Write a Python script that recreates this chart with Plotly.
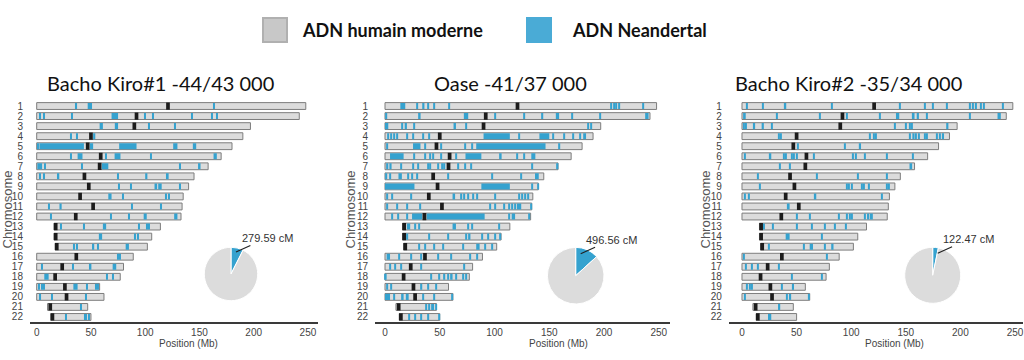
import plotly.graph_objects as go

W, H = 1024, 360

# ---------------- data ----------------
CHROMS = list(range(1, 23))
CHR_START = [0, 0, 0, 0, 0, 0, 0, 0, 0, 0, 0, 0, 16, 16, 17, 0, 0, 0, 0, 0, 10, 13]
CHR_END = [248, 242, 197, 190, 180, 170, 158, 145, 140, 135, 134, 133, 114, 106, 102, 89, 80, 77, 58, 62, 47, 50]
CENTROMERE = [121, 92, 90, 50, 47, 59, 58, 44, 48, 40, 52, 36, 17.5, 17.5, 18.5, 36.5, 23.5, 17, 26, 27.5, 12.5, 14.5]

SAMPLES = ["Bacho Kiro#1 -44/43 000", "Oase -41/37 000", "Bacho Kiro#2 -35/34 000"]
NEANDERTAL_CM = [279.59, 496.56, 122.47]
GENOME_CM = 3750

# Neandertal segments (chromosome, start Mb, end Mb)
BK1_SEGMENTS = [
    (1, 36, 37.2), (1, 47, 51), (1, 163, 164),
    (2, 3, 4), (2, 6, 7.5), (2, 32, 33), (2, 69, 75), (2, 99, 100), (2, 107, 108), (2, 143, 144), (2, 161, 162), (2, 165.5, 167),
    (3, 58, 61), (3, 72, 75), (3, 103, 104), (3, 127, 128),
    (4, 31.5, 32.5), (4, 37, 38), (4, 52, 54),
    (5, 1, 2), (5, 2.5, 43.5), (5, 49, 52), (5, 76, 92), (5, 125.8, 129.7), (5, 143.9, 147),
    (6, 31.5, 32.5), (6, 37.7, 42.2), (6, 63, 64), (6, 71.8, 77.2), (6, 105, 106), (6, 163, 166),
    (7, 0.6, 5), (7, 7.5, 8.5), (7, 41.5, 42.5), (7, 60, 66), (7, 132, 133), (7, 148.7, 151),
    (8, 2.4, 3.4), (8, 6, 7), (8, 19.6, 20.8), (8, 74, 75), (8, 100, 102), (8, 120, 121.6),
    (9, 75.4, 76.4), (9, 86, 87), (9, 108.6, 111), (9, 112, 115.2), (9, 132, 133),
    (10, 66, 69), (10, 79, 80), (10, 119, 120), (10, 121, 122),
    (11, 11, 12), (11, 21, 23), (11, 87, 88), (11, 114.5, 115.5),
    (12, 12.7, 13.7), (12, 67.9, 68.9), (12, 85, 86), (12, 98.6, 101.4), (12, 126.7, 129.7),
    (13, 22, 23), (13, 43, 44), (13, 61, 64), (13, 93.5, 94.5), (13, 101, 102), (13, 103, 104),
    (14, 57.3, 60.3), (14, 90.5, 91.5), (14, 92.5, 93.5),
    (15, 33.8, 34.8), (15, 36.8, 37.8), (15, 51, 53), (15, 55.8, 56.8), (15, 82, 85),
    (16, 74.8, 75.8), (16, 76, 77),
    (17, 4.5, 5.5), (17, 33, 34), (17, 49, 50.4), (17, 70, 73.3),
    (18, 7, 11), (18, 64, 65), (18, 69.4, 70.4),
    (19, 2, 3), (19, 4.5, 5.5), (19, 6.6, 7.6), (19, 33.8, 37.7), (19, 45.9, 46.9), (19, 54.3, 55.3), (19, 56, 57),
    (20, 3, 4), (20, 13.6, 14.6), (20, 44.6, 45.6),
    (21, 40, 41),
    (22, 26.5, 27.5), (22, 43.7, 44.7), (22, 45.2, 46.2), (22, 48, 49),
]

OASE_SEGMENTS = [
    (1, 14, 18.5), (1, 29, 30), (1, 34, 36), (1, 39, 40), (1, 44, 45), (1, 58, 59),
    (1, 206, 207), (1, 208.5, 209.5), (1, 211, 212), (1, 213, 214), (1, 235, 236),
    (2, 1, 2), (2, 31, 32.5), (2, 72, 76), (2, 100, 101), (2, 126.5, 127.5), (2, 143.5, 144.5),
    (2, 156, 159), (2, 170, 171.5), (2, 196, 197), (2, 237.6, 240.7),
    (3, 0, 3), (3, 15.4, 16.4), (3, 18, 20), (3, 26, 27), (3, 62.6, 64.8), (3, 73.5, 74.5), (3, 185, 186), (3, 188, 189),
    (4, 2, 3), (4, 5, 6), (4, 8, 9), (4, 10.5, 11.5), (4, 20, 21), (4, 25.6, 26.6), (4, 34, 35), (4, 40, 41),
    (4, 90, 114), (4, 122, 123), (4, 141, 150), (4, 153, 154), (4, 162.7, 163.7), (4, 171, 172), (4, 177.5, 179), (4, 181, 183.6),
    (5, 1.5, 2.5), (5, 25.6, 32.4), (5, 36, 37), (5, 51, 52), (5, 72.5, 73.5), (5, 78.7, 79.7), (5, 83.3, 146.6), (5, 159, 160),
    (6, 4.6, 17), (6, 26, 27), (6, 36.4, 37.4), (6, 41, 42), (6, 43.5, 44.8), (6, 51, 52), (6, 64.8, 65.8), (6, 73.5, 88),
    (6, 105, 106.5), (6, 120, 121), (6, 126.5, 127.5), (6, 133.6, 137.3),
    (7, 1.5, 3), (7, 4, 6), (7, 14, 15), (7, 25.6, 26.6), (7, 30, 31), (7, 38.6, 39.6), (7, 40.7, 41.7), (7, 47.8, 48.8),
    (7, 51.5, 52.5), (7, 54, 55), (7, 66, 67), (7, 72.5, 73.5), (7, 78, 79), (7, 133.6, 134.6), (7, 156.5, 158.3),
    (8, 1, 2), (8, 4.6, 5.6), (8, 12.3, 15.4), (8, 21, 22), (8, 24.7, 25.7), (8, 29, 30), (8, 57, 58), (8, 97, 98),
    (8, 123.5, 124.5), (8, 137, 140.4),
    (9, 0, 26.9), (9, 88, 114), (9, 133.6, 134.6), (9, 139, 140),
    (10, 1.5, 2.5), (10, 6, 7), (10, 23.8, 24.8), (10, 61.7, 64), (10, 69.4, 70.5), (10, 71.5, 73), (10, 75.6, 76.6),
    (10, 80, 81), (10, 84, 85), (10, 100, 101), (10, 122, 123), (10, 124.5, 125.5), (10, 127.5, 128.5), (10, 130.5, 131.5),
    (11, 1.5, 2.5), (11, 10.8, 11.8), (11, 20, 21), (11, 31.8, 32.8), (11, 95.7, 96.7), (11, 100, 101), (11, 108, 109),
    (11, 112.7, 113.7), (11, 115.7, 116.7), (11, 118, 119), (11, 120.5, 124.4), (11, 132.7, 133.7),
    (12, 6, 7), (12, 11.4, 12.4), (12, 20, 21), (12, 24.7, 34), (12, 38, 91), (12, 113.3, 114.3), (12, 115.7, 118.8), (12, 131, 132),
    (13, 20, 23), (13, 27, 28), (13, 31, 32), (13, 61.7, 64.8), (13, 75.6, 76.6), (13, 78.7, 79.7), (13, 103.4, 104.4),
    (14, 20, 21), (14, 40, 41), (14, 57, 58), (14, 73.5, 75), (14, 76.5, 78), (14, 88, 89), (14, 93.5, 94.5), (14, 100, 101), (14, 105, 106),
    (15, 31, 32), (15, 36, 37), (15, 44.8, 45.8), (15, 52.5, 53.5), (15, 71, 72), (15, 83.3, 86.4), (15, 91, 92), (15, 97, 98),
    (16, 1.5, 4.6), (16, 12.3, 13.3), (16, 23.8, 24.8), (16, 32.4, 33.4), (16, 47.8, 48.8), (16, 60, 61), (16, 77, 78), (16, 83.3, 84.3),
    (17, 4, 5), (17, 9, 10), (17, 13.9, 14.9), (17, 32.4, 33.4), (17, 72, 73),
    (18, 0, 1.5), (18, 41.7, 42.7), (18, 49.4, 50.4), (18, 54, 55), (18, 57, 58), (18, 60, 61.7), (18, 64.8, 65.8), (18, 71, 72), (18, 74, 75),
    (19, 1.5, 2.5), (19, 5, 6), (19, 33, 34), (19, 38.6, 39.6), (19, 46.3, 47.3),
    (20, 0, 4.6), (20, 7.7, 8.7), (20, 15.4, 17), (20, 19, 21.6), (20, 34, 35), (20, 44.8, 45.8), (20, 61, 62),
    (21, 37, 38), (21, 40, 41), (21, 43, 44.8), (21, 46, 47),
    (22, 21.6, 22.6), (22, 26.9, 27.9), (22, 32.4, 33.4), (22, 38.6, 39.6), (22, 49, 50),
]

BK2_SEGMENTS = [
    (1, 4, 5), (1, 19, 20), (1, 39, 40.5), (1, 81.7, 82.7), (1, 144, 145), (1, 167, 168), (1, 174.7, 175.7), (1, 187, 188),
    (1, 208, 209), (1, 211, 212), (1, 214, 215), (1, 218, 219), (1, 221, 222), (1, 238.7, 239.7),
    (2, 1, 3.4), (2, 31.4, 32.4), (2, 71, 72), (2, 95.4, 96.4), (2, 126, 127), (2, 141, 144), (2, 156.4, 158), (2, 160, 162),
    (2, 168.6, 169.6), (2, 208, 209), (2, 234, 237),
    (3, 1, 2), (3, 3.5, 4.5), (3, 10, 12), (3, 18, 20), (3, 27, 28), (3, 139.6, 140.6), (3, 150, 151), (3, 153, 154), (3, 155, 156), (3, 187, 189),
    (4, 33, 34), (4, 35, 36), (4, 116.8, 118), (4, 120, 121), (4, 122, 123), (4, 153, 154), (4, 156, 158), (4, 159, 160),
    (4, 161.5, 162.5), (4, 167, 168), (4, 169, 170), (4, 177.7, 179), (4, 181, 182), (4, 183.5, 185),
    (5, 51, 52), (5, 94, 95), (5, 107, 109),
    (6, 2.4, 3.4), (6, 25.3, 26.8), (6, 37.5, 38.5), (6, 39.5, 40.5), (6, 45, 46), (6, 47, 48), (6, 49.7, 50.7), (6, 65, 66),
    (6, 101.5, 102.5), (6, 103.6, 104.6), (6, 112, 113), (6, 132, 133), (6, 156.4, 157.4),
    (7, 34.5, 35.5), (7, 43.6, 44.6), (7, 153.4, 155.8),
    (8, 13.7, 14.7), (8, 68, 69), (8, 106, 107), (8, 132, 133),
    (9, 16, 17), (9, 95.4, 96.4), (9, 97.5, 98.5), (9, 100.5, 101.5), (9, 109, 110), (9, 111.5, 112.5), (9, 115.8, 116.8), (9, 132, 133), (9, 134, 135),
    (10, 2.4, 3.4), (10, 5.5, 7), (10, 66.5, 68), (10, 127.4, 128.4),
    (11, 42, 43.6),
    (12, 49.7, 50.7), (12, 62, 63), (12, 88, 89), (12, 95.4, 96.4), (12, 98.5, 99.5), (12, 100.5, 101.5), (12, 112, 113), (12, 114.5, 116.5), (12, 118, 119.8),
    (13, 20, 21), (13, 28, 29), (13, 49.7, 50.7), (13, 63.4, 64.4), (13, 75, 76), (13, 85, 86), (13, 95, 96),
    (14, 40, 43.6), (14, 72.6, 73.6),
    (15, 23.8, 24.8), (15, 55.8, 56.8), (15, 62, 65), (15, 75.6, 76.6), (15, 81.7, 83.8),
    (16, 1, 2), (16, 77, 78),
    (17, 3, 4), (17, 9, 10), (17, 14, 15), (17, 33, 34),
    (18, 45, 46), (18, 72.5, 74),
    (19, 4, 5), (19, 7, 8), (19, 9, 10), (19, 36, 37), (19, 46.6, 47.6),
    (20, 2.4, 3.4), (20, 40.5, 41.5), (20, 43, 45), (20, 60.4, 61.4),
    (21, 33, 35),
    (22, 23.8, 26.8),
]

ALL_SEGMENTS = [BK1_SEGMENTS, OASE_SEGMENTS, BK2_SEGMENTS]
X_TICKS = [0, 50, 100, 150, 200, 250]

# ---------------- styling / layout ----------------
GREY = "#dcdcdc"
OUTLINE = "#7d7d7d"
BLUE = "#35a2cf"
CEN = "#1c1c1c"
TXT = "#444444"
FONT = "Liberation Sans"
TITLE_FONT = "Lato"

ZERO_PX = [36.7, 385, 742]        # pixel where 0 Mb sits in each panel
PX_PER_MB = [1.085, 1.095, 1.092]
X_RANGES = [[-6.2, 259], [-9, 260], [-12, 257.5]]
Y_TOP_PX, Y_BOT_PX = 100, 322
PIE_CENTERS = [(231, 274), (575.7, 275.7), (932.7, 275.3)]
PIE_R = [26.7, 28.3, 28]
TITLE_X = [160, 510, 848]
CHROMO_X = [6.5, 349.5, 704.5]
POS_LABEL_X = [188, 558, 894]
BAR_W = 0.68


def px(x):
    return x / W


def py(y):
    return 1 - y / H


fig = go.Figure()

for i in range(3):
    sfx = "" if i == 0 else str(i + 1)
    xa, ya = "x" + sfx, "y" + sfx
    # chromosome bodies
    fig.add_trace(go.Bar(
        orientation="h", y=CHROMS,
        x=[e - s for s, e in zip(CHR_START, CHR_END)], base=CHR_START,
        width=BAR_W, marker=dict(color=GREY, line=dict(color=OUTLINE, width=1)),
        xaxis=xa, yaxis=ya, showlegend=False, hoverinfo="skip"))
    # Neandertal segments
    segs = ALL_SEGMENTS[i]
    fig.add_trace(go.Bar(
        orientation="h", y=[c for c, s, e in segs],
        x=[e - s for c, s, e in segs], base=[s for c, s, e in segs],
        width=BAR_W - 0.08, marker=dict(color=BLUE, line=dict(width=0)),
        xaxis=xa, yaxis=ya, showlegend=False, hoverinfo="skip"))
    # centromeres
    fig.add_trace(go.Bar(
        orientation="h", y=CHROMS, x=[3.4] * len(CHROMS),
        base=[c - 1.7 for c in CENTROMERE],
        width=BAR_W + 0.04, marker=dict(color=CEN, line=dict(width=0)),
        xaxis=xa, yaxis=ya, showlegend=False, hoverinfo="skip"))

    rng = X_RANGES[i]
    x0 = ZERO_PX[i] + rng[0] * PX_PER_MB[i]
    x1 = ZERO_PX[i] + rng[1] * PX_PER_MB[i]
    fig.layout["xaxis" + sfx] = dict(
        domain=[px(x0), min(px(x1), 1)], range=rng, anchor=ya,
        tickvals=X_TICKS, showgrid=False, zeroline=False, automargin=False,
        showline=True, linecolor="#3a3a3a", linewidth=1.5, ticks="",
        ticklabeloverflow="allow",
        tickfont=dict(family=FONT, size=10, color=TXT), fixedrange=True)
    fig.layout["yaxis" + sfx] = dict(
        domain=[py(Y_BOT_PX), py(Y_TOP_PX)], range=[22.5, 0.4], anchor=xa,
        tickvals=CHROMS, ticktext=[str(c) for c in CHROMS], automargin=False,
        showgrid=False, zeroline=False, showline=False, ticks="",
        ticklabelstandoff=6,
        tickfont=dict(family=FONT, size=10, color=TXT), fixedrange=True)

    # pie
    cx, cy = PIE_CENTERS[i]
    r = PIE_R[i]
    v = NEANDERTAL_CM[i]
    fig.add_trace(go.Pie(
        values=[v, GENOME_CM - v], sort=False, direction="clockwise", rotation=0,
        marker=dict(colors=[BLUE, GREY], line=dict(color="white", width=1)),
        textinfo="none", hoverinfo="skip", showlegend=False,
        domain=dict(x=[px(cx - r), px(cx + r)], y=[py(cy + r), py(cy - r)])))

    # pie label with leader
    fig.add_annotation(
        text=f"{v:.2f} cM", xref="paper", yref="paper",
        x=px(cx + 5), y=py(cy - 22), ax=31, ay=-14,
        showarrow=True, arrowhead=0, arrowwidth=1.2, arrowcolor="#222",
        font=dict(family=FONT, size=11, color="#333"))

    # titles
    fig.add_annotation(
        text=SAMPLES[i], xref="paper", yref="paper", x=px(TITLE_X[i]), y=py(83),
        xanchor="center", yanchor="middle",
        showarrow=False, font=dict(family=TITLE_FONT, size=20, color="#111"))
    fig.add_annotation(
        text="Chromosome", xref="paper", yref="paper", x=px(CHROMO_X[i]), y=py(210),
        xanchor="center", yanchor="middle",
        textangle=-90, showarrow=False, font=dict(family=FONT, size=13, color="#555"))
    fig.add_annotation(
        text="Position (Mb)", xref="paper", yref="paper", x=px(POS_LABEL_X[i]), y=py(343),
        xanchor="center", yanchor="middle",
        showarrow=False, font=dict(family=FONT, size=10, color=TXT))

# legend
LEGEND = [("ADN humain moderne", "#c8c8c8", "#b0b0b0", 263, 300),
          ("ADN Neandertal", "#4aabd6", "#4aabd6", 527, 570)]
for label, fill, edge, sx, tx in LEGEND:
    fig.add_shape(type="rect", xref="paper", yref="paper",
                  x0=px(sx), x1=px(sx + 24), y0=py(42), y1=py(18),
                  fillcolor=fill, line=dict(color=edge, width=2))
    fig.add_annotation(text=f"<b>{label}</b>", xref="paper", yref="paper",
                       x=px(tx), y=py(30), xanchor="left", yanchor="middle",
                       showarrow=False,
                       font=dict(family=TITLE_FONT, size=18, color="#111"))

fig.update_layout(
    width=W, height=H, margin=dict(l=0, r=0, t=0, b=0),
    paper_bgcolor="white", plot_bgcolor="white", barmode="overlay",
    showlegend=False)

fig.write_html("out.html", config={"displayModeBar": False},
               post_script="document.body.style.margin='0px';")
